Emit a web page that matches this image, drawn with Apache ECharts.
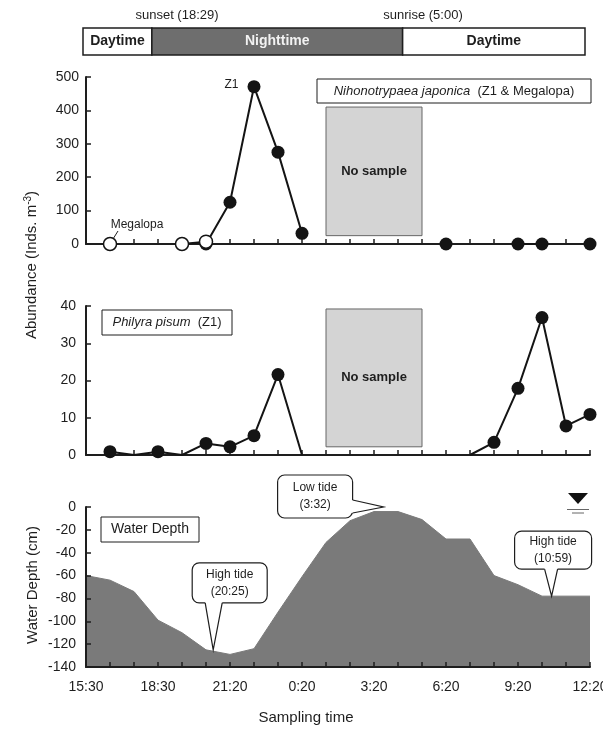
<!DOCTYPE html>
<html>
<head>
    <meta charset="utf-8">
    <script src="https://cdn.jsdelivr.net/npm/echarts@6/dist/echarts.min.js"></script>
</head>
<body style="margin:0;background:#fff">
    <div id="main" style="width: 603px;height:735px;"></div>
    <script type="text/javascript">

    // x is the sampling slot (roughly hourly), 0 = 15:30 ... 21 = 12:20
    var timeLabels = ['15:30', '18:30', '21:20', '0:20', '3:20', '6:20', '9:20', '12:20'];

    var z1       = [null, null, null, null, null, 0, 125, 471, 275, 32, null, null, null, null, null, 0, null, null, 0, 0, null, 0];
    var megalopa = [null, 0, null, null, 0, 7, null, null, null, null, null, null, null, null, null, null, null, null, null, null, null, null];
    var philyra  = [null, 0.9, 0, 0.9, 0, 3.1, 2.2, 5.2, 21.6, 0, null, null, null, null, null, null, 0, 3.4, 17.9, 36.9, 7.8, 10.9];
    var depth    = [-60, -64, -74, -99, -110, -125, -129, -124, -92, -61, -31, -12, -4, -4, -11, -28, -28, -60, -68, -78, -78, -78];

    var noSample = [10, 14];
    var periods = [['Daytime', -0.12, 2.75], ['Nighttime', 2.75, 13.2], ['Daytime', 13.2, 20.8]];
    var tides = [['High tide', '20:25', 5.3, -125], ['Low tide', '3:32', 12.4, 0], ['High tide', '10:59', 19.4, -78]];

    var FONT = 'Liberation Sans';
    var INK = '#1e1e1e';

    function pairs(arr) {
        return arr.map(function (v, i) { return [i, v == null ? '-' : v]; });
    }

    function xAx(grid, labels, z) {
        return {
            type: 'value', gridIndex: grid, min: 0, max: 21, interval: 1, z: z,
            axisLine: {onZero: false, lineStyle: {color: INK, width: 2}},
            axisTick: {inside: true, length: 5, lineStyle: {color: INK, width: 1.5}},
            axisLabel: {
                show: labels, fontSize: 14, color: INK, fontFamily: FONT, margin: 13,
                formatter: function (v) { return v % 3 === 0 ? timeLabels[v / 3] : ''; }
            },
            splitLine: {show: false}
        };
    }

    function yAx(grid, min, max, interval, margin, z) {
        return {
            type: 'value', gridIndex: grid, min: min, max: max, interval: interval, z: z,
            axisLine: {show: true, onZero: false, lineStyle: {color: INK, width: 2}},
            axisTick: {show: true, inside: true, length: 5, lineStyle: {color: INK, width: 1.5}},
            axisLabel: {fontSize: 14, color: INK, fontFamily: FONT, margin: margin},
            splitLine: {show: false}
        };
    }

    var z1Data = pairs(z1);
    z1Data[7] = {value: z1Data[7], label: {show: true, position: 'left', distance: 9, offset: [0, -2], formatter: 'Z1', fontSize: 12, color: INK, fontFamily: FONT}};

    var noSampleArea = function (lo, hi) {
        return {
            silent: true,
            itemStyle: {color: '#d4d4d4', borderColor: '#666', borderWidth: 1},
            label: {show: true, position: 'inside', formatter: 'No sample', fontWeight: 'bold', fontSize: 13, color: INK, fontFamily: FONT},
            data: [[{xAxis: noSample[0], yAxis: lo}, {xAxis: noSample[1], yAxis: hi}]]
        };
    };

    var myChart = echarts.init(document.getElementById('main'));

    myChart.setOption({
        animation: false,
        backgroundColor: '#fff',
        grid: [
            {left: 86, right: 13, top: 77, height: 167, outerBoundsMode: 'none'},
            {left: 86, right: 13, top: 306, height: 149, outerBoundsMode: 'none'},
            {left: 86, right: 13, top: 507, height: 160, outerBoundsMode: 'none'},
            {left: 83, right: 18, top: 28, height: 27, outerBoundsMode: 'none'}
        ],
        xAxis: [
            xAx(0, false, 0), xAx(1, false, 0), xAx(2, true, 5),
            {type: 'value', gridIndex: 3, min: -0.12, max: 20.8, show: false}
        ],
        yAxis: [
            yAx(0, 0, 500, 100, 7, 0), yAx(1, 0, 40, 10, 10, 0), yAx(2, -140, 0, 20, 10, 5),
            {type: 'value', gridIndex: 3, min: 0, max: 1, show: false}
        ],
        series: [
            {
                name: 'Z1', type: 'line', xAxisIndex: 0, yAxisIndex: 0,
                data: z1Data, symbol: 'circle', symbolSize: 13,
                itemStyle: {color: '#141414'}, lineStyle: {color: '#141414', width: 2},
                markArea: noSampleArea(25, 410), z: 3
            },
            {
                name: 'Megalopa', type: 'line', xAxisIndex: 0, yAxisIndex: 0,
                data: pairs(megalopa), symbol: 'circle', symbolSize: 13,
                itemStyle: {color: '#fff', borderColor: '#141414', borderWidth: 1.5},
                lineStyle: {color: '#141414', width: 2}, z: 4
            },
            {
                name: 'Philyra pisum', type: 'line', xAxisIndex: 1, yAxisIndex: 1,
                data: pairs(philyra), symbolSize: 13,
                symbol: function (v) { return v[1] === 0 ? 'none' : 'circle'; },
                itemStyle: {color: '#141414'}, lineStyle: {color: '#141414', width: 2},
                markArea: noSampleArea(2.2, 39.2), z: 3
            },
            {
                name: 'Water depth', type: 'line', xAxisIndex: 2, yAxisIndex: 2,
                data: pairs(depth), symbol: 'none',
                lineStyle: {width: 1, color: '#7a7a7a'},
                areaStyle: {color: '#7a7a7a', opacity: 1, origin: 'start'},
                markLine: {
                    silent: true, symbol: 'none', label: {show: false},
                    lineStyle: {color: '#888', width: 1, type: 'solid'},
                    data: [[{coord: [0.25, 0]}, {coord: [21.1, 0]}]]
                }
            },
            {
                type: 'line', xAxisIndex: 3, yAxisIndex: 3, data: [],
                markArea: {
                    silent: true,
                    data: periods.map(function (p) {
                        var night = p[0] === 'Nighttime';
                        return [{
                            xAxis: p[1],
                            itemStyle: {color: night ? '#6e6e6e' : '#fff', borderColor: INK, borderWidth: 1.5},
                            label: {show: true, position: 'inside', formatter: p[0], fontSize: 14, fontWeight: 'bold',
                                color: night ? '#f2f2f2' : INK, fontFamily: FONT}
                        }, {xAxis: p[2]}];
                    })
                }
            }
        ]
    });

    // annotations, placed with the chart's own scales where they point at data
    var g = [];
    var txt = {fontFamily: FONT, fill: INK};

    g.push({type: 'text', x: 177, y: 15, style: Object.assign({text: 'sunset (18:29)', fontSize: 13, align: 'center', verticalAlign: 'middle'}, txt)});
    g.push({type: 'text', x: 423, y: 15, style: Object.assign({text: 'sunrise (5:00)', fontSize: 13, align: 'center', verticalAlign: 'middle'}, txt)});

    g.push({type: 'rect', shape: {x: 317, y: 79, width: 274, height: 24}, style: {fill: '#fff', stroke: INK, lineWidth: 1}, z: 10});
    g.push({type: 'text', x: 454, y: 91, z: 11, style: Object.assign({
        text: '{i|Nihonotrypaea japonica}  (Z1 & Megalopa)', fontSize: 13, align: 'center', verticalAlign: 'middle',
        rich: {i: {fontStyle: 'italic', fontSize: 13, fontFamily: FONT}}
    }, txt)});

    g.push({type: 'rect', shape: {x: 102, y: 310, width: 130, height: 25}, style: {fill: '#fff', stroke: INK, lineWidth: 1}, z: 10});
    g.push({type: 'text', x: 167, y: 322.5, z: 11, style: Object.assign({
        text: '{i|Philyra pisum}  (Z1)', fontSize: 13, align: 'center', verticalAlign: 'middle',
        rich: {i: {fontStyle: 'italic', fontSize: 13, fontFamily: FONT}}
    }, txt)});

    g.push({type: 'rect', shape: {x: 101, y: 517, width: 98, height: 25}, style: {fill: '#fff', stroke: INK, lineWidth: 1}, z: 10});
    g.push({type: 'text', x: 150, y: 529.5, z: 11, style: Object.assign({text: 'Water Depth', fontSize: 14, align: 'center', verticalAlign: 'middle'}, txt)});

    // Megalopa tag
    var pm = myChart.convertToPixel({gridIndex: 0}, [1, 0]);
    g.push({type: 'text', x: pm[0] + 27, y: pm[1] - 19, style: Object.assign({text: 'Megalopa', fontSize: 12, align: 'center', verticalAlign: 'middle'}, txt)});
    g.push({type: 'line', shape: {x1: pm[0] + 3, y1: pm[1] - 5, x2: pm[0] + 8, y2: pm[1] - 13}, style: {stroke: INK, lineWidth: 1}});

    // tide callouts: box offset from tip, tail base points
    var callBox = [
        {box: [-21, -87, 75, 40], base: [[-8, -47], [9, -47]]},
        {box: [-106, -32, 75, 43], base: [[-31, -7], [-31, 6]]},
        {box: [-37, -65, 77, 38], base: [[-7, -27], [6, -27]]}
    ];
    tides.forEach(function (t, i) {
        var p = myChart.convertToPixel({gridIndex: 2}, [t[2], t[3]]);
        var c = callBox[i];
        var bx = p[0] + c.box[0], by = p[1] + c.box[1];
        var b1 = [p[0] + c.base[0][0], p[1] + c.base[0][1]];
        var b2 = [p[0] + c.base[1][0], p[1] + c.base[1][1]];
        g.push({type: 'rect', z: 20, shape: {x: bx, y: by, width: c.box[2], height: c.box[3], r: 7}, style: {fill: '#fff', stroke: INK, lineWidth: 1.2}});
        g.push({type: 'polygon', z: 21, shape: {points: [b1, p, b2]}, style: {fill: '#fff'}});
        g.push({type: 'line', z: 21, shape: {x1: b1[0], y1: b1[1], x2: b2[0], y2: b2[1]}, style: {stroke: '#fff', lineWidth: 3}});
        g.push({type: 'polyline', z: 22, shape: {points: [b1, p, b2]}, style: {stroke: INK, lineWidth: 1.2, fill: null}});
        g.push({type: 'text', z: 23, x: bx + c.box[2] / 2, y: by + c.box[3] / 2, style: Object.assign({
            text: t[0] + '\n(' + t[1] + ')', fontSize: 12, lineHeight: 17, align: 'center', verticalAlign: 'middle'}, txt)});
    });

    // water surface mark
    var ws = myChart.convertToPixel({gridIndex: 2}, [20.5, 0]);
    g.push({type: 'polygon', shape: {points: [[ws[0] - 10, ws[1] - 14], [ws[0] + 10, ws[1] - 14], [ws[0], ws[1] - 3]]}, style: {fill: '#111'}});
    g.push({type: 'line', shape: {x1: ws[0] - 11, y1: ws[1] + 2.5, x2: ws[0] + 11, y2: ws[1] + 2.5}, style: {stroke: '#666', lineWidth: 1}});
    g.push({type: 'line', shape: {x1: ws[0] - 6, y1: ws[1] + 6, x2: ws[0] + 6, y2: ws[1] + 6}, style: {stroke: '#666', lineWidth: 1}});

    // axis titles
    g.push({type: 'text', x: 32, y: 265, rotation: Math.PI / 2, style: Object.assign({
        text: 'Abundance (Inds. m{sup|-3})', fontSize: 15, align: 'center', verticalAlign: 'middle',
        rich: {sup: {fontSize: 10, fontFamily: FONT, padding: [0, 0, 8, 0]}}
    }, txt)});
    g.push({type: 'text', x: 33, y: 585, rotation: Math.PI / 2, style: Object.assign({text: 'Water Depth (cm)', fontSize: 15, align: 'center', verticalAlign: 'middle'}, txt)});
    g.push({type: 'text', x: 306, y: 718, style: Object.assign({text: 'Sampling time', fontSize: 15, align: 'center', verticalAlign: 'middle'}, txt)});

    myChart.setOption({graphic: g});

</script>
</body>
</html>
